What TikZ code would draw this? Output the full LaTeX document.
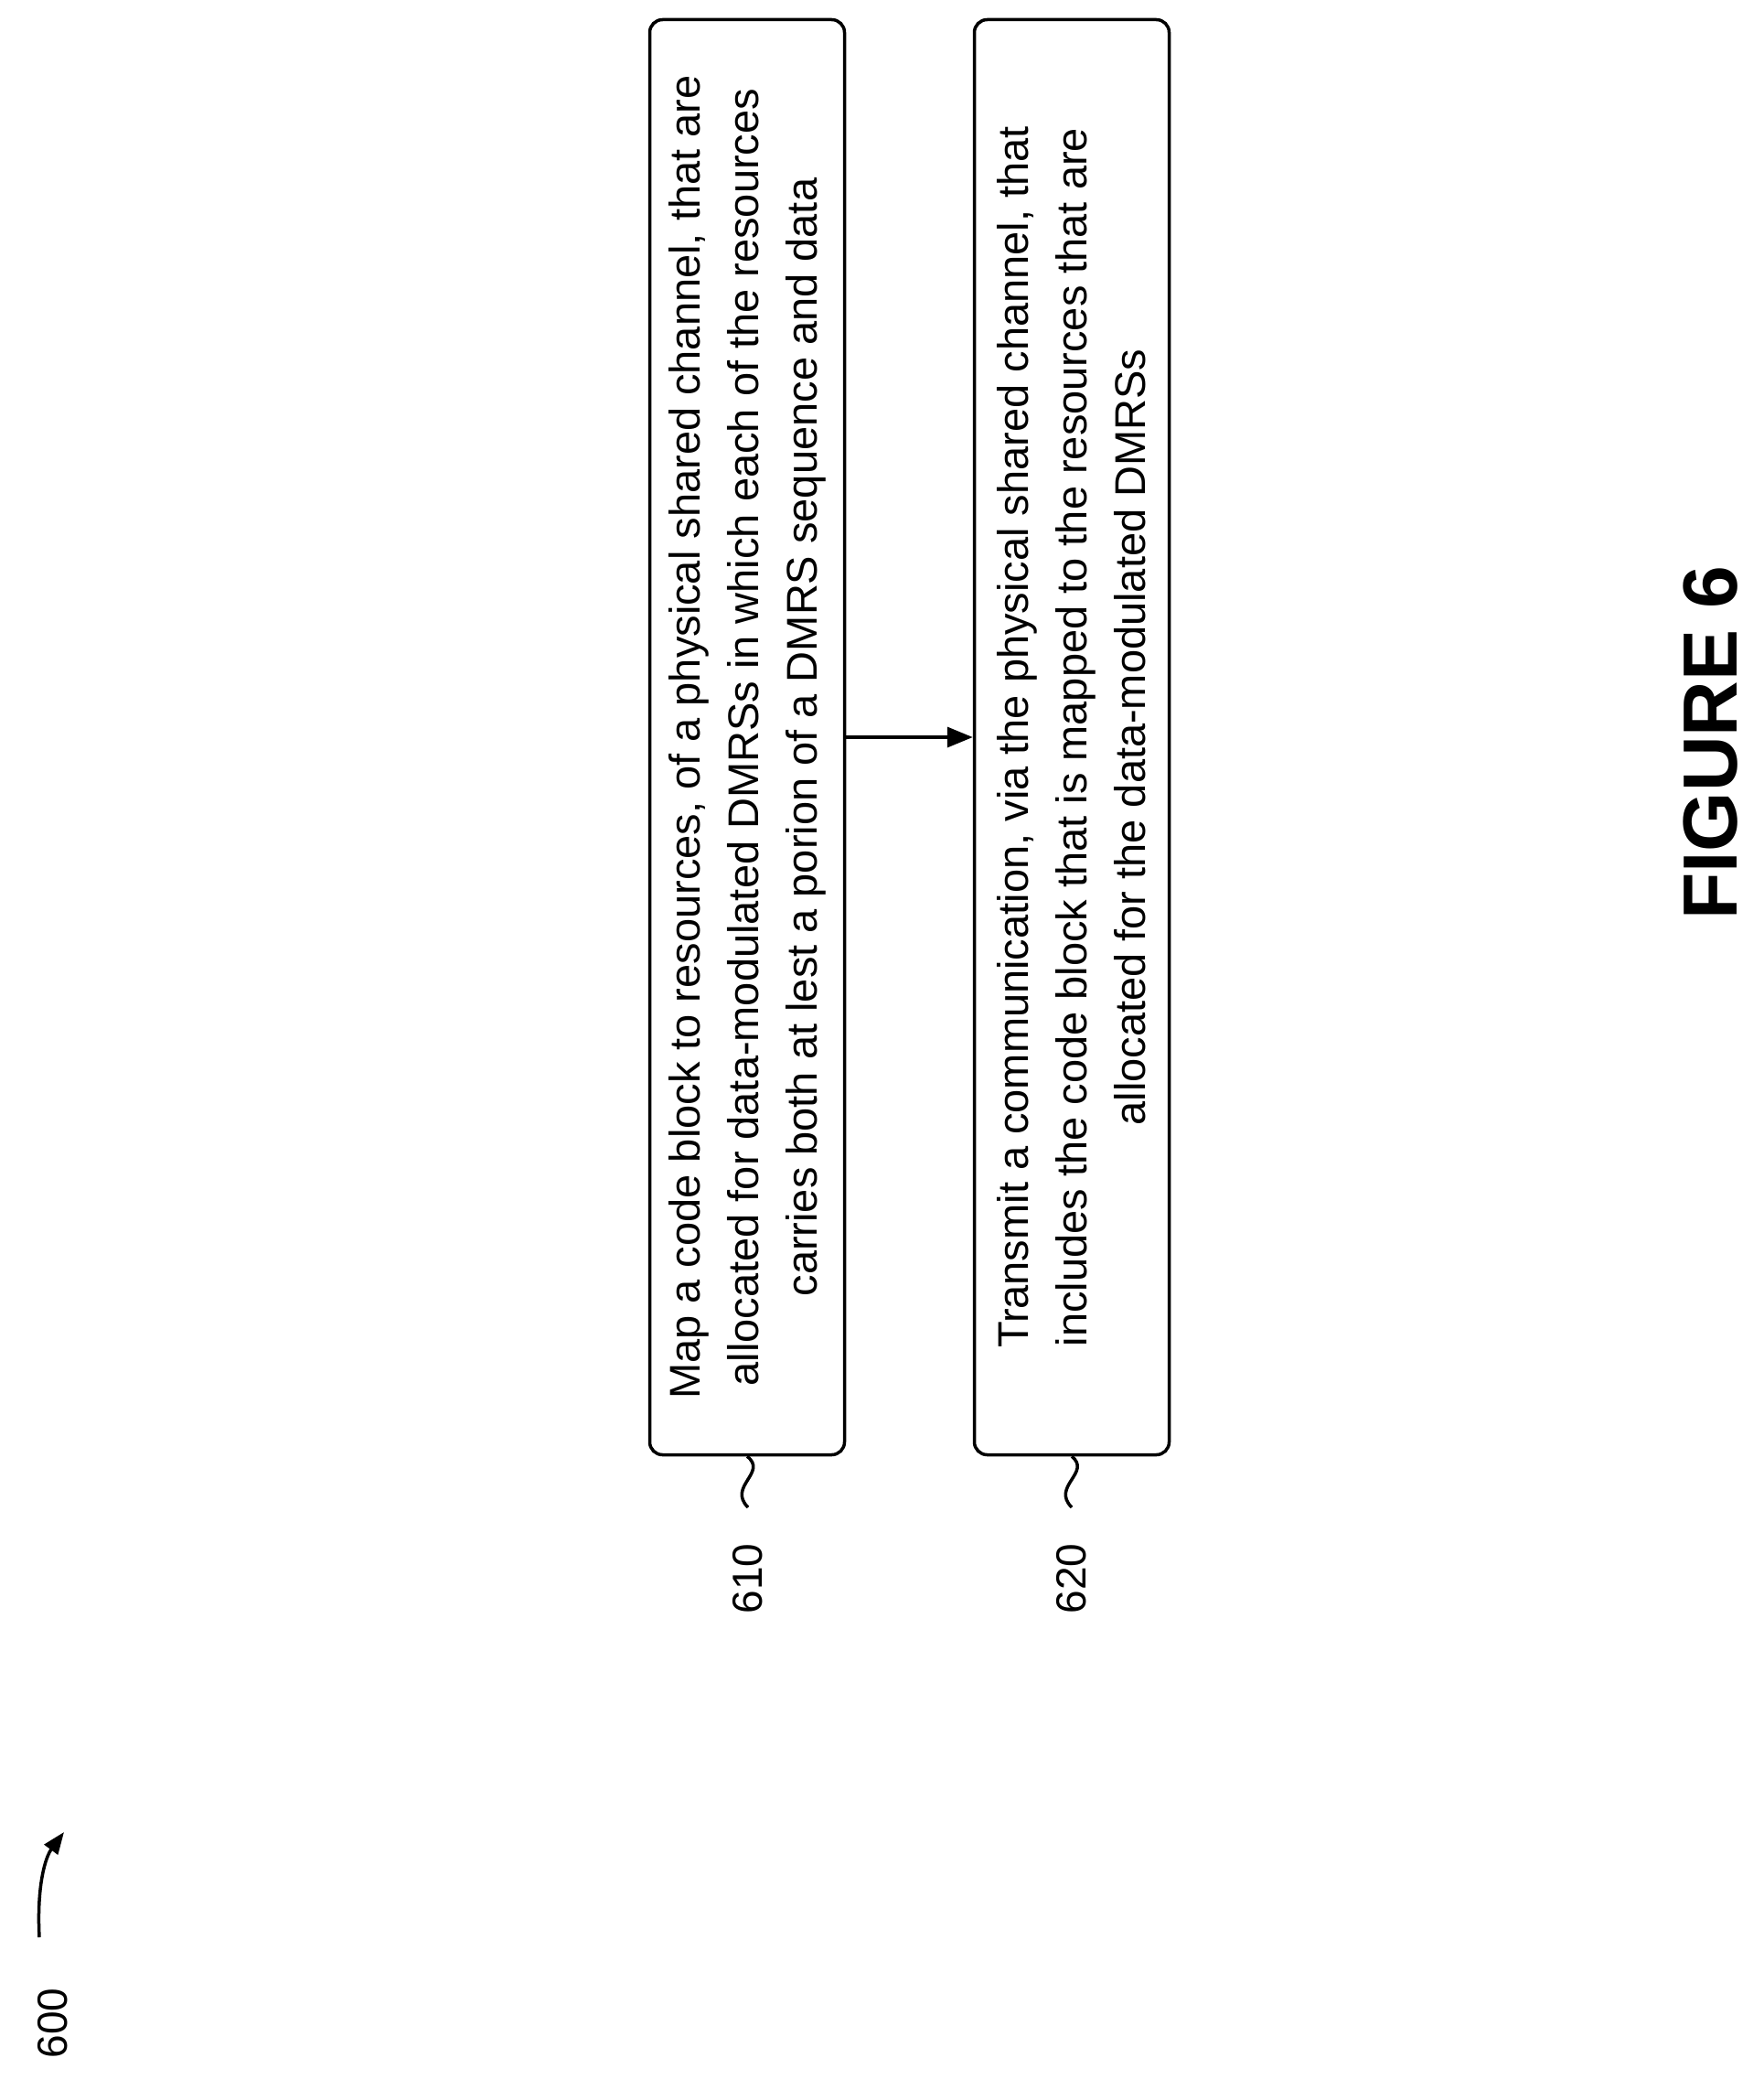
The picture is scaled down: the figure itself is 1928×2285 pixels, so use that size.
\documentclass[tikz,border=0pt]{standalone}
\usepackage{fontspec}
\setmainfont{Liberation Sans}
\usetikzlibrary{arrows.meta}
\begin{document}
\begin{tikzpicture}[x=1pt,y=-1pt,
  stepbox/.style={draw,line width=3.5pt,rounded corners=14pt,rotate=90,minimum width=1569pt,minimum height=213pt,align=center,inner sep=0pt,font=\fontsize{47}{64}\selectfont},
  lbl/.style={rotate=90,font=\fontsize{46}{50}\selectfont},
  sq/.style={line width=3.5pt}]
\useasboundingbox (0,0) rectangle (1928,2285);
\node[stepbox] (b1) at (817,806) {Map a code block to resources, of a physical shared channel,  that are\\ allocated for data-modulated DMRSs in which each of the resources\\ carries both at lest a porion of a DMRS sequence and data};
\node[stepbox] (b2) at (1172,806) {Transmit a communication, via the physical shared channel, that\\ includes the code block that is mapped to the resources that are\\ allocated for the data-modulated DMRSs};
\draw[line width=3.5pt,-{Triangle[length=28pt,width=22pt]}] (b1.south) -- (b2.north);
\node[lbl] (l1) at (818,1726) {610};
\node[lbl] (l2) at (1172,1726) {620};
\draw[sq] (b1.west) .. controls (840,1610) and (795,1625) .. (818,1648);
\draw[sq] (b2.west) .. controls (1194,1610) and (1149,1625) .. (1172,1648);
\node[rotate=90,font=\bfseries\fontsize{84}{90}\selectfont] (fig) at (1871,812) {FIGURE 6};
\node[lbl] (l600) at (58,2212) {600};
\coordinate (a0) at (43,2118);
\coordinate (a1) at (70,2003);
\draw[line width=3.5pt,-{Triangle[length=24pt,width=18pt]}] (a0) .. controls (40,2060) and (50,2030) .. (a1);
\end{tikzpicture}
\end{document}
